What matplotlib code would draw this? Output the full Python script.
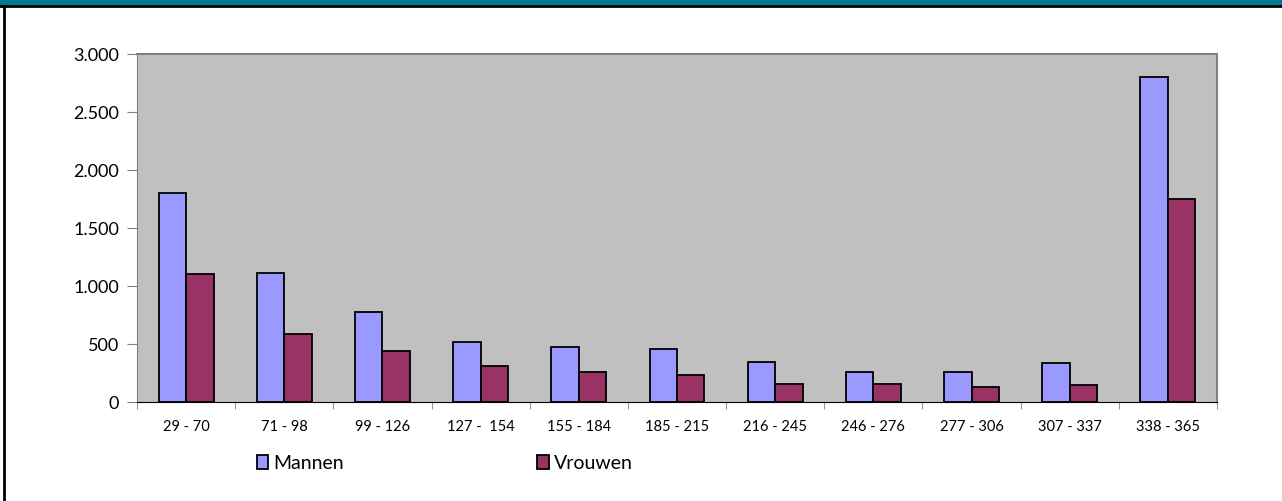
import matplotlib.pyplot as plt
import matplotlib.patches as mpatches
from matplotlib.lines import Line2D
import numpy as np

categories = ["29 - 70", "71 - 98", "99 - 126", "127 -  154", "155 - 184", "185 - 215",
              "216 - 245", "246 - 276", "277 - 306", "307 - 337", "338 - 365"]
mannen = [1800, 1115, 780, 520, 474, 457, 347, 261, 261, 336, 2800]
vrouwen = [1100, 583, 436, 310, 259, 230, 152, 155, 126, 147, 1750]

plt.rcParams['font.family'] = ['Lato', 'DejaVu Sans']

fig = plt.figure(figsize=(12.82, 5.02), dpi=100)
ax = fig.add_axes([137/1282, 1-403/502, 1080/1282, 348/502])

x = np.arange(len(categories))
w = 0.28
ax.bar(x - w/2, mannen, w, color="#9999FF", edgecolor="black", linewidth=1.3, label="Mannen")
ax.bar(x + w/2, vrouwen, w, color="#993366", edgecolor="black", linewidth=1.3, label="Vrouwen")

ax.set_facecolor("#C0C0C0")
ax.set_xlim(-0.5, len(categories) - 0.5)
ax.set_ylim(0, 3000)
ax.set_yticks(range(0, 3001, 500))
ax.set_yticklabels(["0", "500", "1.000", "1.500", "2.000", "2.500", "3.000"], fontsize=13)
ax.set_xticks(x)
ax.set_xticklabels(categories, fontsize=10.5)
ax.set_xticks(np.arange(-0.5, len(categories), 1), minor=True)
ax.tick_params(axis='x', which='major', length=0, pad=12)
ax.tick_params(axis='x', which='minor', length=5, color="#808080", direction='out')
ax.tick_params(axis='y', length=7, color="#808080", direction='out', pad=6)
for s in ["top", "right"]:
    ax.spines[s].set_color("#808080")
    ax.spines[s].set_linewidth(1.5)
ax.spines["left"].set_color("#808080")
ax.spines["bottom"].set_color("black")

leg = fig.legend(loc="center left", bbox_to_anchor=(239/1282, 1-464/502), ncol=2,
                 frameon=False, fontsize=14, columnspacing=9.95, handlelength=0.6,
                 handleheight=0.75, handletextpad=0.25)

# title bar and frame
fig.patches.append(mpatches.Rectangle((0, 1-6/502), 1, 6/502, transform=fig.transFigure,
                                      color="#007A94", zorder=0))
fig.lines.append(Line2D([0, 1], [1-7/502, 1-7/502], transform=fig.transFigure, color="black", linewidth=2))
fig.lines.append(Line2D([4/1282, 4/1282], [0, 1-7/502], transform=fig.transFigure, color="black", linewidth=2))

fig.savefig("out.png", dpi=100)
